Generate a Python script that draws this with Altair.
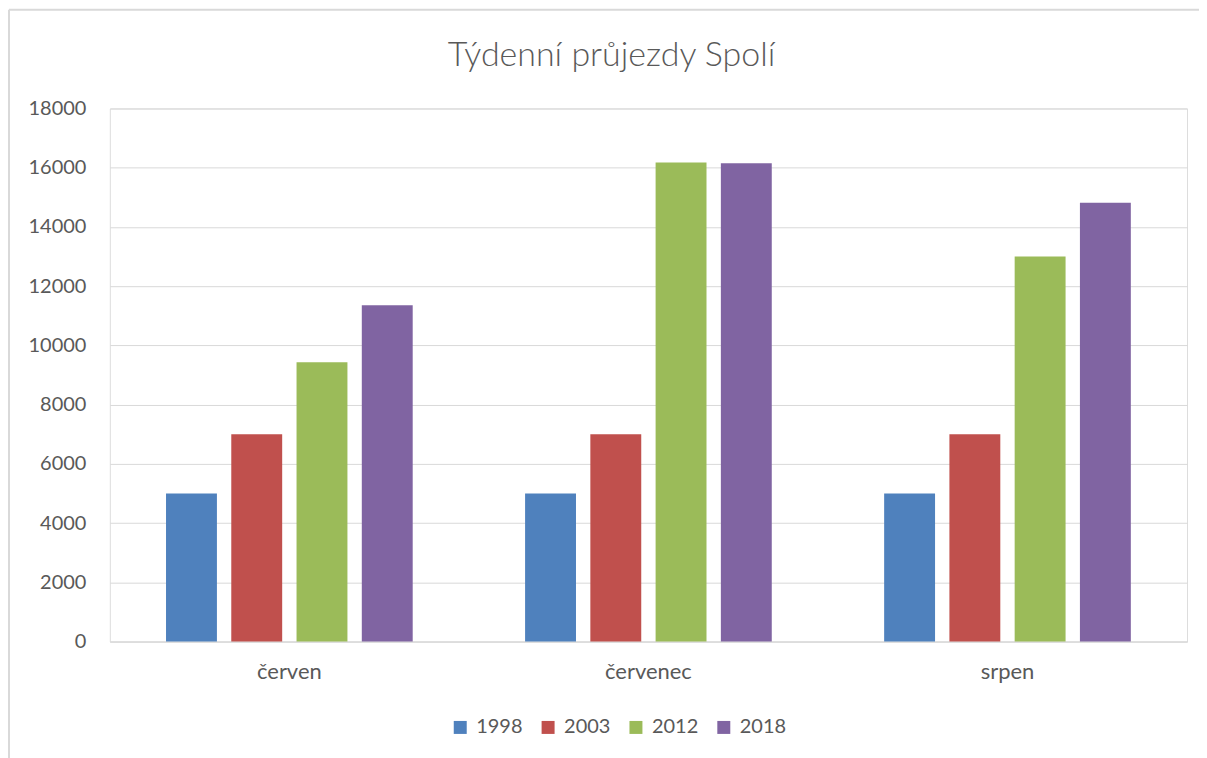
import altair as alt
import pandas as pd

months = ["červen", "červenec", "srpen"]
years = ["1998", "2003", "2012", "2018"]
v1998 = [5000, 5000, 5000]
v2003 = [7000, 7000, 7000]
v2012 = [9430, 16180, 13000]
v2018 = [11360, 16150, 14820]
colors = ["#4f81bd", "#c0504d", "#9bbb59", "#8064a2"]
y_ticks = list(range(0, 18001, 2000))

rows = []
for yr, vals in zip(years, [v1998, v2003, v2012, v2018]):
    for m, v in zip(months, vals):
        rows.append({"měsíc": m, "rok": yr, "hodnota": v})
df = pd.DataFrame(rows)

FONT = "Lato"
TXT = "#595959"
GRID = "#d9d9d9"

bars = alt.Chart(df).mark_bar().encode(
    x=alt.X("měsíc:N", sort=months, title=None,
            scale=alt.Scale(paddingInner=0.313, paddingOuter=0.1565),
            axis=alt.Axis(labelAngle=0, ticks=False, domain=True, domainColor=GRID,
                          labelFontSize=22, labelColor=TXT, labelFont=FONT,
                          labelPadding=20)),
    xOffset=alt.XOffset("rok:N", sort=years,
                        scale=alt.Scale(paddingInner=0.22, paddingOuter=0)),
    y=alt.Y("hodnota:Q", title=None,
            scale=alt.Scale(domain=[0, 18000], nice=False),
            axis=alt.Axis(values=y_ticks, ticks=False, domain=False, grid=True,
                          gridColor=GRID, labelFontSize=20, labelColor=TXT,
                          labelFont=FONT, labelPadding=24, format="d")),
    color=alt.Color("rok:N", sort=years,
                    scale=alt.Scale(domain=years, range=colors),
                    legend=alt.Legend(title=None, orient="none", direction="horizontal",
                                      legendX=341, legendY=610,
                                      symbolType="square", symbolSize=169,
                                      symbolStrokeWidth=0, labelFontSize=20,
                                      labelColor=TXT, labelFont=FONT,
                                      labelOffset=6, columnPadding=15)),
)

border_top = alt.Chart(pd.DataFrame({"a": [0]})).mark_rule(color=GRID, strokeWidth=2).encode(
    x=alt.value(-101), x2=alt.value(1110), y=alt.value(-99))
border_left = alt.Chart(pd.DataFrame({"a": [0]})).mark_rule(color=GRID, strokeWidth=2).encode(
    x=alt.value(-101), y=alt.value(-99), y2=alt.value(660))

chart = alt.layer(border_top, border_left, bars).properties(
    width=1079, height=534,
    title=alt.TitleParams("Týdenní průjezdy Spolí", font=FONT, fontSize=34,
                          fontWeight=300, color=TXT, anchor="middle",
                          dx=-37, offset=-64),
    padding={"left": 102, "top": 100, "right": 12, "bottom": 130},
    autosize=alt.AutoSizeParams(type="none"),
).configure_view(stroke=None).configure(background="white")

chart.save("out.html", embed_options={"renderer": "svg", "actions": False})
